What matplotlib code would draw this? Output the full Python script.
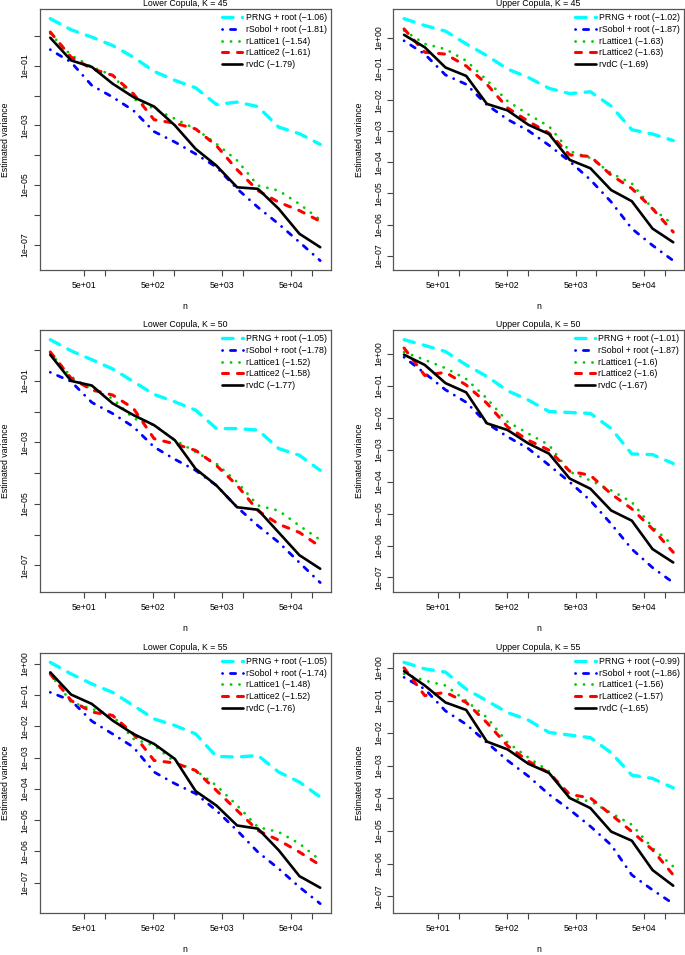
import math
import matplotlib
matplotlib.use("Agg")
import matplotlib.pyplot as plt
from matplotlib.ticker import FixedLocator, FuncFormatter, NullLocator

plt.rcParams['font.family'] = ['Liberation Sans', 'DejaVu Sans']
plt.rcParams['lines.scale_dashes'] = False

# sample sizes n (x axis)
n_values = [16, 32, 64, 128, 256, 512, 1024, 2048, 4096, 8192, 16384, 32768, 65536, 131072]
methods = ["PRNG + root", "rSobol + root", "rLattice1", "rLattice2", "rvdC"]

# log10(estimated variance)
lower45_prng = [0.58, 0.21, -0.04, -0.32, -0.71, -1.19, -1.49, -1.74, -2.30, -2.22, -2.37, -3.06, -3.28, -3.64]
lower45_sobol = [-0.46, -0.88, -1.66, -2.05, -2.50, -3.21, -3.56, -3.96, -4.40, -5.13, -5.75, -6.31, -6.92, -7.54]
lower45_lat1 = [0.08, -0.65, -1.04, -1.32, -2.11, -2.44, -2.78, -3.12, -3.62, -4.18, -5.02, -5.19, -5.64, -6.17]
lower45_lat2 = [0.13, -0.71, -1.10, -1.32, -1.94, -2.81, -2.93, -3.12, -3.68, -4.49, -5.19, -5.58, -5.86, -6.22]
lower45_vdc = [-0.06, -0.82, -1.04, -1.60, -2.05, -2.37, -3.00, -3.79, -4.35, -5.08, -5.13, -5.80, -6.64, -7.09]
lower45_slopes = [-1.06, -1.81, -1.54, -1.61, -1.79]

upper45_prng = [0.62, 0.40, 0.22, -0.19, -0.57, -1.00, -1.27, -1.62, -1.79, -1.73, -2.19, -2.95, -3.09, -3.30]
upper45_sobol = [-0.09, -0.52, -1.19, -1.49, -2.15, -2.62, -2.98, -3.45, -3.97, -4.56, -5.27, -6.13, -6.67, -7.16]
upper45_lat1 = [0.24, -0.19, -0.36, -0.73, -1.36, -2.03, -2.46, -2.84, -3.64, -3.86, -4.35, -4.68, -5.49, -6.00]
upper45_lat2 = [0.29, -0.46, -0.52, -0.90, -1.49, -2.25, -2.68, -3.06, -3.76, -3.81, -4.41, -4.84, -5.49, -6.24]
upper45_vdc = [0.10, -0.30, -0.95, -1.22, -2.12, -2.33, -2.79, -3.09, -3.92, -4.19, -4.89, -5.25, -6.13, -6.57]
upper45_slopes = [-1.02, -1.87, -1.63, -1.63, -1.69]

lower50_prng = [0.34, -0.02, -0.31, -0.61, -1.02, -1.44, -1.68, -1.95, -2.55, -2.55, -2.60, -3.20, -3.42, -3.91]
lower50_sobol = [-0.72, -1.02, -1.70, -2.06, -2.49, -3.15, -3.55, -3.91, -4.40, -5.11, -5.71, -6.25, -6.91, -7.56]
lower50_lat1 = [-0.09, -0.86, -1.29, -1.57, -2.22, -2.44, -2.93, -3.31, -3.69, -4.29, -5.05, -5.22, -5.71, -6.17]
lower50_lat2 = [-0.06, -0.91, -1.29, -1.46, -1.89, -2.88, -3.05, -3.26, -3.75, -4.40, -5.22, -5.66, -5.93, -6.39]
lower50_vdc = [-0.15, -1.00, -1.15, -1.73, -2.11, -2.44, -2.93, -3.86, -4.40, -5.11, -5.19, -5.93, -6.67, -7.11]
lower50_slopes = [-1.05, -1.78, -1.52, -1.58, -1.77]

upper50_prng = [0.45, 0.27, 0.08, -0.34, -0.70, -1.15, -1.44, -1.80, -1.83, -1.86, -2.33, -3.13, -3.15, -3.43]
upper50_sobol = [-0.10, -0.60, -1.12, -1.51, -2.17, -2.59, -2.96, -3.48, -4.01, -4.59, -5.32, -6.11, -6.69, -7.16]
upper50_lat1 = [0.06, -0.18, -0.44, -0.78, -1.39, -2.12, -2.49, -2.85, -3.69, -3.96, -4.27, -4.64, -5.42, -6.00]
upper50_lat2 = [0.19, -0.67, -0.57, -0.97, -1.54, -2.28, -2.70, -3.01, -3.67, -3.80, -4.38, -4.85, -5.48, -6.21]
upper50_vdc = [-0.02, -0.34, -0.91, -1.20, -2.17, -2.38, -2.80, -3.12, -3.90, -4.22, -4.90, -5.22, -6.11, -6.53]
upper50_slopes = [-1.01, -1.87, -1.6, -1.6, -1.67]

lower55_prng = [0.05, -0.32, -0.64, -0.91, -1.33, -1.76, -1.97, -2.24, -2.96, -2.98, -2.93, -3.46, -3.78, -4.26]
lower55_sobol = [-0.91, -1.17, -1.83, -2.24, -2.66, -3.46, -3.83, -4.15, -4.69, -5.33, -6.02, -6.55, -7.14, -7.67]
lower55_lat1 = [-0.32, -1.22, -1.44, -1.65, -2.40, -2.61, -3.14, -3.41, -3.89, -4.53, -5.22, -5.38, -5.75, -6.28]
lower55_lat2 = [-0.32, -1.17, -1.54, -1.65, -2.24, -3.09, -3.17, -3.41, -4.05, -4.69, -5.33, -5.64, -6.02, -6.44]
lower55_vdc = [-0.27, -0.98, -1.28, -1.81, -2.24, -2.56, -3.04, -4.07, -4.53, -5.17, -5.27, -5.96, -6.79, -7.16]
lower55_slopes = [-1.05, -1.74, -1.48, -1.52, -1.76]

upper55_prng = [0.17, -0.03, -0.13, -0.65, -1.01, -1.37, -1.60, -1.98, -2.06, -2.14, -2.60, -3.29, -3.39, -3.68]
upper55_sobol = [-0.29, -0.65, -1.32, -1.73, -2.29, -2.84, -3.32, -3.88, -4.35, -4.86, -5.43, -6.35, -6.81, -7.23]
upper55_lat1 = [-0.18, -0.39, -0.54, -1.01, -1.52, -2.29, -2.75, -3.17, -3.99, -4.09, -4.45, -4.81, -5.53, -6.09]
upper55_lat2 = [0.00, -0.85, -0.75, -1.06, -1.68, -2.39, -2.86, -3.22, -3.88, -3.99, -4.50, -5.02, -5.58, -6.35]
upper55_vdc = [-0.10, -0.54, -1.06, -1.29, -2.26, -2.50, -2.94, -3.22, -3.99, -4.30, -5.02, -5.30, -6.20, -6.68]
upper55_slopes = [-0.99, -1.86, -1.56, -1.57, -1.65]

# line styles (R: longdash, dotdash, dotted, dashed, solid)
colors = ["#00FFFF", "#0000FF", "#00CD00", "#FF0000", "#000000"]
widths = [2.4, 2.0, 2.0, 2.2, 1.9]
dashes = [(7.6, 6.7), (0.1, 5.6, 3.8, 5.6), (0.1, 6.0), (4.3, 6.5), None]

panels = [
    ("Lower Copula, K = 45", [lower45_prng, lower45_sobol, lower45_lat1, lower45_lat2, lower45_vdc], lower45_slopes, 2),
    ("Upper Copula, K = 45", [upper45_prng, upper45_sobol, upper45_lat1, upper45_lat2, upper45_vdc], upper45_slopes, 1),
    ("Lower Copula, K = 50", [lower50_prng, lower50_sobol, lower50_lat1, lower50_lat2, lower50_vdc], lower50_slopes, 2),
    ("Upper Copula, K = 50", [upper50_prng, upper50_sobol, upper50_lat1, upper50_lat2, upper50_vdc], upper50_slopes, 1),
    ("Lower Copula, K = 55", [lower55_prng, lower55_sobol, lower55_lat1, lower55_lat2, lower55_vdc], lower55_slopes, 1),
    ("Upper Copula, K = 55", [upper55_prng, upper55_sobol, upper55_lat1, upper55_lat2, upper55_vdc], upper55_slopes, 1),
]

W, H = 685, 955
col_x = [(39.5, 331), (393.3, 684)]
row_y = [(9, 270.3), (330, 592.3), (652.7, 913.3)]
fs = 6.3

def fmt(v, pos):
    return ("%.0e" % v).replace("-", "\u2212")

fig = plt.figure(figsize=(W / 100, H / 100), dpi=100)

for i, (title, series, slopes, step) in enumerate(panels):
    x0, x1 = col_x[i % 2]
    y0, y1 = row_y[i // 2]
    ax = fig.add_axes([x0 / W, 1 - y1 / H, (x1 - x0) / W, (y1 - y0) / H])

    for k in range(5):
        lab = "%s (\u2212%g)" % (methods[k], abs(slopes[k]))
        line, = ax.plot(n_values, [10 ** v for v in series[k]], color=colors[k],
                        lw=widths[k], label=lab, solid_capstyle='round',
                        dash_capstyle='round', solid_joinstyle='round')
        if dashes[k] is not None:
            line.set_dashes(dashes[k])

    ax.set_xscale('log')
    ax.set_yscale('log')

    # R-style 4% padding around the data range
    lx = [math.log10(n_values[0]), math.log10(n_values[-1])]
    rx = lx[1] - lx[0]
    ax.set_xlim(10 ** (lx[0] - 0.04 * rx), 10 ** (lx[1] + 0.04 * rx))
    lo = min(min(s) for s in series)
    hi = max(max(s) for s in series)
    ry = hi - lo
    ylo, yhi = lo - 0.04 * ry, hi + 0.04 * ry
    ax.set_ylim(10 ** ylo, 10 ** yhi)

    xt = [50, 100, 500, 1000, 5000, 10000, 50000, 100000]
    ax.xaxis.set_major_locator(FixedLocator(xt))
    ax.xaxis.set_minor_locator(NullLocator())
    ax.xaxis.set_major_formatter(FuncFormatter(lambda v, p: fmt(v, p) if str(int(v))[0] == "5" else ""))

    kmin, kmax = math.ceil(ylo), math.floor(yhi)
    yt = [10.0 ** k for k in range(kmin, kmax + 1)]
    ax.yaxis.set_major_locator(FixedLocator(yt))
    ax.yaxis.set_minor_locator(NullLocator())
    ax.yaxis.set_major_formatter(FuncFormatter(
        lambda v, p, kmin=kmin, step=step: fmt(v, p) if (round(math.log10(v)) - kmin) % step == 0 else ""))

    ax.tick_params(axis='both', direction='out', length=4, width=0.8, color='#444444',
                   labelsize=fs, pad=3.5)
    ax.tick_params(axis='y', labelrotation=90)
    for lbl in ax.get_yticklabels():
        lbl.set_va('center')
    for sp in ax.spines.values():
        sp.set_color('#555555')
        sp.set_linewidth(0.9)

    ax.set_title(title, fontsize=fs, pad=2)
    ax.set_xlabel("n", fontsize=fs, labelpad=9)
    ax.set_ylabel("Estimated variance", fontsize=fs, labelpad=7)

    ax.legend(loc='upper right', frameon=False, fontsize=6.3, handlelength=2.3,
              handletextpad=0.35, labelspacing=0.3, borderaxespad=0.3, borderpad=0.2)

fig.savefig("out.png", dpi=100)
